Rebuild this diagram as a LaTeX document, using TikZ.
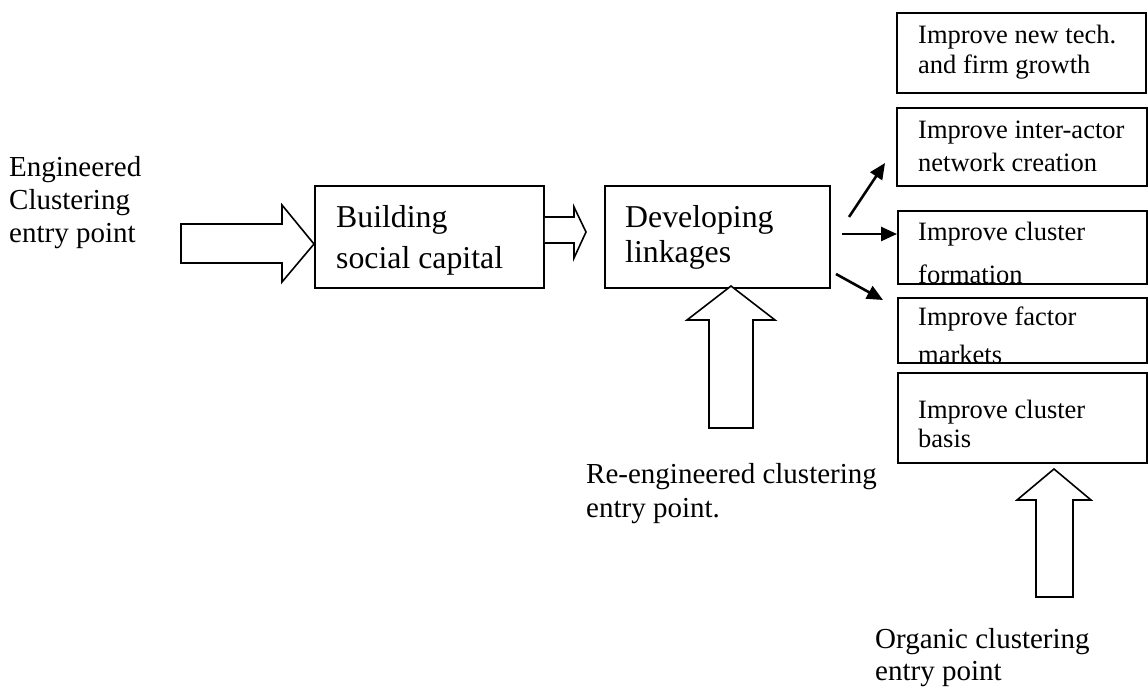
\documentclass[tikz,border=0pt]{standalone}
\usepackage{fontspec}
\setmainfont{Liberation Serif}
\usetikzlibrary{arrows.meta}
\begin{document}
\begin{tikzpicture}[x=1pt,y=-1pt,
  box/.style={draw, line width=1.8pt, inner sep=0, anchor=north west},
  blk/.style={draw, line width=1.6pt, line join=miter, fill=white},
  lbl/.style={inner sep=0, anchor=base west, font=\fontsize{29}{33}\selectfont},
  big/.style={inner sep=0, anchor=base west, font=\fontsize{31.8}{38}\selectfont},
  sml/.style={inner sep=0, anchor=base west, font=\fontsize{26.5}{30}\selectfont},
  conn/.style={line width=2.6pt, -{Triangle[length=16pt,width=14pt]}}
]
\useasboundingbox (0,0) rectangle (1148,686);

% boxes
\node[box, minimum width=229pt, minimum height=102pt] (build) at (314,185) {};
\node[box, minimum width=225pt, minimum height=102pt] (dev) at (604,185) {};
\node[box, minimum width=249pt, minimum height=80pt] (r1) at (896,12) {};
\node[box, minimum width=250pt, minimum height=78pt] (r2) at (896,107) {};
\node[box, minimum width=249pt, minimum height=73pt] (r3) at (897,210) {};
\node[box, minimum width=249pt, minimum height=65pt] (r4) at (897,297) {};
\node[box, minimum width=249pt, minimum height=90pt] (r5) at (897,372) {};

% block arrows
\draw[blk] (181,224) -- (282,224) -- (282,205) -- (build.west |- 0,244) -- (282,282) -- (282,263) -- (181,263) -- cycle;
\draw[blk] (build.east |- 0,217) -- (574,217) -- (574,207) -- (586,232) -- (574,258) -- (574,243) -- (build.east |- 0,243);
\draw[blk] (709,428) -- (709,320) -- (687,320) -- (731,286) -- (775,320) -- (753,320) -- (753,428) -- cycle;
\draw[blk] (1036,597) -- (1036,500) -- (1017,500) -- (1054,469) -- (1091,500) -- (1073,500) -- (1073,597) -- cycle;

% connectors
\coordinate (c1s) at (849,217);
\coordinate (c1e) at (885,163);
\coordinate (c2s) at (842,234);
\coordinate (c3s) at (836,274);
\coordinate (c3e) at (883,300);
\draw[conn] (c1s) -- (c1e);
\draw[conn] (c2s) -- (r3.west |- c2s);
\draw[conn] (c3s) -- (c3e);

% labels
\node[lbl] (e1) at (9,176) {Engineered};
\node[lbl] (e2) at (9,209) {Clustering};
\node[lbl] (e3) at (9,242) {entry point};

\node[big] (b1) at (336,227) {Building};
\node[big] (b2) at (336,268) {social capital};
\node[big] (d1) at (625,227) {Developing};
\node[big] (d2) at (625,262) {linkages};

\node[sml] (t1a) at (918,43) {Improve new tech.};
\node[sml] (t1b) at (918,73) {and firm growth};
\node[sml] (t2a) at (918,138) {Improve inter-actor};
\node[sml] (t2b) at (918,171) {network creation};
\node[sml] (t3a) at (918,240) {Improve cluster};
\begin{scope}
  \clip (r3.north west) rectangle (r3.south east);
  \node[sml] (t3b) at (918,283) {formation};
\end{scope}
\node[sml] (t4a) at (918,325) {Improve factor};
\begin{scope}
  \clip (r4.north west) rectangle (r4.south east);
  \node[sml] (t4b) at (918,363) {markets};
\end{scope}
\node[sml] (t5a) at (918,418) {Improve cluster};
\node[sml] (t5b) at (918,447) {basis};

\node[lbl] (re1) at (586,483) {Re-engineered clustering};
\node[lbl] (re2) at (586,517) {entry point.};
\node[lbl] (o1) at (875,648) {Organic clustering};
\node[lbl] (o2) at (875,680) {entry point};
\end{tikzpicture}
\end{document}
